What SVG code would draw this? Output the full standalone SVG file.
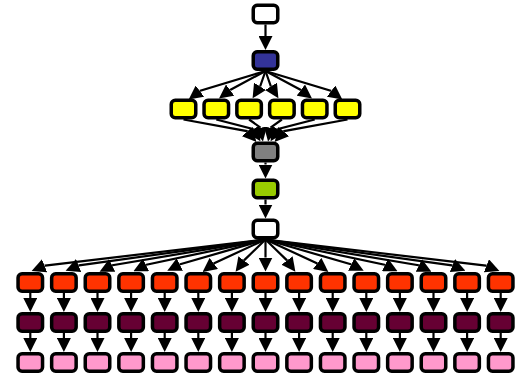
<svg xmlns="http://www.w3.org/2000/svg" width="519" height="380" viewBox="0 0 519 380">
<style>
.n{stroke:#000;stroke-width:3.5}
.w{fill:#fff}.b{fill:#333399}.y{fill:#ffff00}.g{fill:#808080}.gr{fill:#99cc00}
.o{fill:#ff3300}.d{fill:#660033}.p{fill:#ff99cc}
.e path{fill:none;stroke:#000;stroke-width:2.2;marker-end:url(#ah)}
</style>
<defs>
<marker id="ah" viewBox="0 0 14 14" refX="0" refY="7" markerWidth="14" markerHeight="14" markerUnits="userSpaceOnUse" orient="auto"><path d="M0,0 L14,7 L0,14 z" fill="#000" stroke="none"/></marker>
<rect id="box" x="0.25" y="0.25" width="24.5" height="17.5" rx="4"/>
</defs>
<g id="connectors" class="e">
<path d="M265.5,24.5 L265.5,36"/>
<path d="M265.5,71 L200.3,90.8 L199.9,91.1"/>
<path d="M265.5,71 L230.6,89.8 L230.2,90.1"/>
<path d="M265.5,71 L260.25,86 L260,86.4"/>
<path d="M265.5,71 L270.75,86 L271,86.4"/>
<path d="M265.5,71 L300.4,89.8 L300.8,90.1"/>
<path d="M265.5,71 L330.7,90.8 L331.1,91.1"/>
<path d="M183.5,119.5 L246.85,131.1 L247.2,131.5"/>
<path d="M216.3,119.5 L252.75,129 L253,129.4"/>
<path d="M249.1,119.5 L260.1,127.3 L260.2,127.8"/>
<path d="M281.9,119.5 L270.9,127.3 L270.8,127.8"/>
<path d="M314.7,119.5 L278.25,129 L278,129.4"/>
<path d="M347.5,119.5 L284.15,131.1 L283.8,131.5"/>
<path d="M265.5,162.5 L265.5,164.5"/>
<path d="M265.5,199.5 L265.5,204.5"/>
<path d="M265.5,239.5 L45.1,265.6 L44.6,265.8"/>
<path d="M265.5,239.5 L79.1,265.4 L78.6,265.6"/>
<path d="M265.5,239.5 L112.5,265.2 L112.1,265.4"/>
<path d="M265.5,239.5 L146.4,264.7 L146,264.9"/>
<path d="M265.5,239.5 L180.2,264.3 L179.8,264.5"/>
<path d="M265.5,239.5 L214.2,263.2 L213.8,263.5"/>
<path d="M265.5,239.5 L244.3,260.1 L244,260.5"/>
<path d="M265.5,239.5 L265.5,257.5"/>
<path d="M265.5,239.5 L286.7,260.1 L287,260.5"/>
<path d="M265.5,239.5 L316.8,263.2 L317.2,263.5"/>
<path d="M265.5,239.5 L350.8,264.3 L351.2,264.5"/>
<path d="M265.5,239.5 L384.6,264.7 L385,264.9"/>
<path d="M265.5,239.5 L418.5,265.2 L418.9,265.4"/>
<path d="M265.5,239.5 L451.9,265.4 L452.4,265.6"/>
<path d="M265.5,239.5 L485.9,265.6 L486.4,265.8"/>
<path d="M30.3,293 L30.3,298"/><path d="M30.3,333 L30.3,338"/>
<path d="M63.9,293 L63.9,298"/><path d="M63.9,333 L63.9,338"/>
<path d="M97.5,293 L97.5,298"/><path d="M97.5,333 L97.5,338"/>
<path d="M131.1,293 L131.1,298"/><path d="M131.1,333 L131.1,338"/>
<path d="M164.7,293 L164.7,298"/><path d="M164.7,333 L164.7,338"/>
<path d="M198.3,293 L198.3,298"/><path d="M198.3,333 L198.3,338"/>
<path d="M231.9,293 L231.9,298"/><path d="M231.9,333 L231.9,338"/>
<path d="M265.5,293 L265.5,298"/><path d="M265.5,333 L265.5,338"/>
<path d="M299.1,293 L299.1,298"/><path d="M299.1,333 L299.1,338"/>
<path d="M332.7,293 L332.7,298"/><path d="M332.7,333 L332.7,338"/>
<path d="M366.3,293 L366.3,298"/><path d="M366.3,333 L366.3,338"/>
<path d="M399.9,293 L399.9,298"/><path d="M399.9,333 L399.9,338"/>
<path d="M433.5,293 L433.5,298"/><path d="M433.5,333 L433.5,338"/>
<path d="M467.1,293 L467.1,298"/><path d="M467.1,333 L467.1,338"/>
<path d="M500.7,293 L500.7,298"/><path d="M500.7,333 L500.7,338"/>
</g>
<g id="n_top" class="n w"><use href="#box" x="253" y="5"/></g>
<g id="n_blue" class="n b"><use href="#box" x="253" y="51.5"/></g>
<g id="y1" class="n y"><use href="#box" x="171" y="100"/></g>
<g id="y2" class="n y"><use href="#box" x="203.8" y="100"/></g>
<g id="y3" class="n y"><use href="#box" x="236.6" y="100"/></g>
<g id="y4" class="n y"><use href="#box" x="269.4" y="100"/></g>
<g id="y5" class="n y"><use href="#box" x="302.2" y="100"/></g>
<g id="y6" class="n y"><use href="#box" x="335" y="100"/></g>
<g id="n_gray" class="n g"><use href="#box" x="253" y="143"/></g>
<g id="n_green" class="n gr"><use href="#box" x="253" y="180"/></g>
<g id="n_white2" class="n w"><use href="#box" x="253" y="220"/></g>
<g id="o1" class="n o"><use href="#box" x="17.8" y="273.5"/></g>
<g id="o2" class="n o"><use href="#box" x="51.4" y="273.5"/></g>
<g id="o3" class="n o"><use href="#box" x="85" y="273.5"/></g>
<g id="o4" class="n o"><use href="#box" x="118.6" y="273.5"/></g>
<g id="o5" class="n o"><use href="#box" x="152.2" y="273.5"/></g>
<g id="o6" class="n o"><use href="#box" x="185.8" y="273.5"/></g>
<g id="o7" class="n o"><use href="#box" x="219.4" y="273.5"/></g>
<g id="o8" class="n o"><use href="#box" x="253" y="273.5"/></g>
<g id="o9" class="n o"><use href="#box" x="286.6" y="273.5"/></g>
<g id="o10" class="n o"><use href="#box" x="320.2" y="273.5"/></g>
<g id="o11" class="n o"><use href="#box" x="353.8" y="273.5"/></g>
<g id="o12" class="n o"><use href="#box" x="387.4" y="273.5"/></g>
<g id="o13" class="n o"><use href="#box" x="421" y="273.5"/></g>
<g id="o14" class="n o"><use href="#box" x="454.6" y="273.5"/></g>
<g id="o15" class="n o"><use href="#box" x="488.2" y="273.5"/></g>
<g id="d1" class="n d"><use href="#box" x="17.8" y="313.5"/></g>
<g id="d2" class="n d"><use href="#box" x="51.4" y="313.5"/></g>
<g id="d3" class="n d"><use href="#box" x="85" y="313.5"/></g>
<g id="d4" class="n d"><use href="#box" x="118.6" y="313.5"/></g>
<g id="d5" class="n d"><use href="#box" x="152.2" y="313.5"/></g>
<g id="d6" class="n d"><use href="#box" x="185.8" y="313.5"/></g>
<g id="d7" class="n d"><use href="#box" x="219.4" y="313.5"/></g>
<g id="d8" class="n d"><use href="#box" x="253" y="313.5"/></g>
<g id="d9" class="n d"><use href="#box" x="286.6" y="313.5"/></g>
<g id="d10" class="n d"><use href="#box" x="320.2" y="313.5"/></g>
<g id="d11" class="n d"><use href="#box" x="353.8" y="313.5"/></g>
<g id="d12" class="n d"><use href="#box" x="387.4" y="313.5"/></g>
<g id="d13" class="n d"><use href="#box" x="421" y="313.5"/></g>
<g id="d14" class="n d"><use href="#box" x="454.6" y="313.5"/></g>
<g id="d15" class="n d"><use href="#box" x="488.2" y="313.5"/></g>
<g id="p1" class="n p"><use href="#box" x="17.8" y="353.5"/></g>
<g id="p2" class="n p"><use href="#box" x="51.4" y="353.5"/></g>
<g id="p3" class="n p"><use href="#box" x="85" y="353.5"/></g>
<g id="p4" class="n p"><use href="#box" x="118.6" y="353.5"/></g>
<g id="p5" class="n p"><use href="#box" x="152.2" y="353.5"/></g>
<g id="p6" class="n p"><use href="#box" x="185.8" y="353.5"/></g>
<g id="p7" class="n p"><use href="#box" x="219.4" y="353.5"/></g>
<g id="p8" class="n p"><use href="#box" x="253" y="353.5"/></g>
<g id="p9" class="n p"><use href="#box" x="286.6" y="353.5"/></g>
<g id="p10" class="n p"><use href="#box" x="320.2" y="353.5"/></g>
<g id="p11" class="n p"><use href="#box" x="353.8" y="353.5"/></g>
<g id="p12" class="n p"><use href="#box" x="387.4" y="353.5"/></g>
<g id="p13" class="n p"><use href="#box" x="421" y="353.5"/></g>
<g id="p14" class="n p"><use href="#box" x="454.6" y="353.5"/></g>
<g id="p15" class="n p"><use href="#box" x="488.2" y="353.5"/></g>
</svg>
